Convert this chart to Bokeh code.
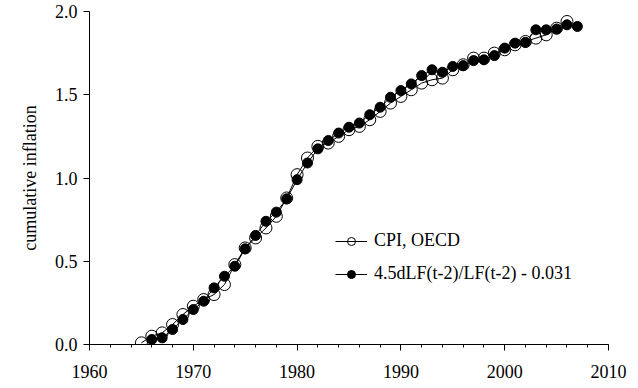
from bokeh.plotting import figure
from bokeh.models import SingleIntervalTicker, FixedTicker, Legend, LegendItem, Range1d, PrintfTickFormatter
from bokeh.embed import file_html
from bokeh.resources import INLINE

years_cpi = list(range(1965, 2007))
cpi = [0.01, 0.05, 0.07, 0.12, 0.18, 0.23, 0.27, 0.30, 0.36, 0.48, 0.58, 0.64, 0.70,
       0.77, 0.88, 1.02, 1.12, 1.19, 1.21, 1.25, 1.29, 1.31, 1.35, 1.40, 1.45, 1.49,
       1.53, 1.57, 1.59, 1.60, 1.65, 1.68, 1.72, 1.72, 1.75, 1.77, 1.80, 1.82, 1.84,
       1.86, 1.90, 1.94]

years_model = list(range(1966, 2008))
model = [0.03, 0.04, 0.09, 0.15, 0.21, 0.26, 0.34, 0.41, 0.47, 0.575, 0.655, 0.74,
         0.795, 0.875, 0.99, 1.09, 1.175, 1.225, 1.27, 1.305, 1.33, 1.38, 1.425,
         1.485, 1.525, 1.565, 1.615, 1.65, 1.635, 1.67, 1.675, 1.705, 1.71, 1.735,
         1.78, 1.81, 1.815, 1.89, 1.89, 1.895, 1.92, 1.91]

y_ticks = [0.0, 0.5, 1.0, 1.5, 2.0]
labels = ["CPI, OECD", "4.5dLF(t-2)/LF(t-2) - 0.031"]

FONT = "'Liberation Serif', 'Times New Roman', Times, serif"

p = figure(width=630, height=388, output_backend="svg", toolbar_location=None,
           x_range=Range1d(1960, 2010), y_range=Range1d(0, 2.0),
           min_border_left=89, min_border_top=11, min_border_right=22, min_border_bottom=44)
p.outline_line_color = None
p.xgrid.visible = False
p.ygrid.visible = False

l1 = p.line(years_cpi, cpi, line_color="black", line_width=1)
s1 = p.scatter(years_cpi, cpi, size=12, marker="circle", line_color="black",
               fill_color=None, line_width=1)
l2 = p.line(years_model, model, line_color="black", line_width=1)
s2 = p.scatter(years_model, model, size=10, marker="circle", line_color="black",
               fill_color="black")

xa = p.xaxis[0]
xa.ticker = SingleIntervalTicker(interval=10, num_minor_ticks=5)
xa.major_tick_in = 0
xa.major_tick_out = 6
xa.minor_tick_in = 0
xa.minor_tick_out = 3
xa.major_label_standoff = 14
xa.major_label_text_font = FONT
xa.major_label_text_font_size = "18px"
xa.major_label_text_color = "black"
xa.axis_line_color = "black"

ya = p.yaxis[0]
ya.ticker = FixedTicker(ticks=y_ticks)
ya.formatter = PrintfTickFormatter(format="%.1f")
ya.major_tick_in = 0
ya.major_tick_out = 6
ya.minor_tick_out = 0
ya.minor_tick_in = 0
ya.major_label_standoff = 6
ya.major_label_text_font = FONT
ya.major_label_text_font_size = "18px"
ya.major_label_text_color = "black"
ya.axis_label = "cumulative inflation"
ya.axis_label_text_font = FONT
ya.axis_label_text_font_size = "18px"
ya.axis_label_text_font_style = "normal"
ya.axis_label_text_color = "black"
ya.axis_label_standoff = 12

legend = Legend(items=[LegendItem(label=labels[0], renderers=[l1, s1]),
                       LegendItem(label=labels[1], renderers=[l2, s2])],
                location=(246, 60), padding=0, margin=0, spacing=12,
                glyph_width=32, glyph_height=20, label_height=20, label_standoff=7,
                border_line_alpha=0, background_fill_alpha=0,
                label_text_font=FONT, label_text_font_size="18px",
                label_text_color="black")
p.add_layout(legend, "center")

open("out.html", "w").write(file_html(p, INLINE))
